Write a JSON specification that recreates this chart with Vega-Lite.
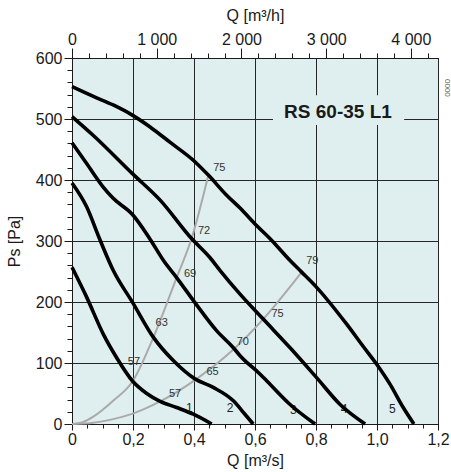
{
  "$schema": "https://vega.github.io/schema/vega-lite/v6.json",
  "width": 366,
  "height": 366,
  "autosize": {"type": "none"},
  "padding": {"left": 72, "top": 58, "right": 13, "bottom": 48},
  "background": "white",
  "config": {
    "view": {"fill": "#dfefef", "stroke": "#1a1a1a", "strokeWidth": 1},
    "axis": {"labelFont": "Liberation Sans", "labelFontSize": 16, "labelColor": "#1a1a1a", "titleFont": "Liberation Sans", "titleFontSize": 16, "titleFontWeight": "normal", "titleColor": "#1a1a1a", "tickColor": "#1a1a1a", "domainColor": "#1a1a1a", "gridColor": "#262626", "gridWidth": 1, "labelOverlap": false, "labelFlush": false}
  },
  "datasets": {
    "curves": [
      {"c": "1", "v": 0, "p": 257}, {"c": "1", "v": 0.048, "p": 208}, {"c": "1", "v": 0.103, "p": 147}, {"c": "1", "v": 0.146, "p": 109}, {"c": "1", "v": 0.199, "p": 70}, {"c": "1", "v": 0.245, "p": 50}, {"c": "1", "v": 0.289, "p": 37}, {"c": "1", "v": 0.343, "p": 27}, {"c": "1", "v": 0.398, "p": 16}, {"c": "1", "v": 0.458, "p": 0},
      {"c": "2", "v": 0, "p": 395}, {"c": "2", "v": 0.048, "p": 356}, {"c": "2", "v": 0.09, "p": 304}, {"c": "2", "v": 0.135, "p": 252}, {"c": "2", "v": 0.199, "p": 199}, {"c": "2", "v": 0.267, "p": 142}, {"c": "2", "v": 0.332, "p": 104}, {"c": "2", "v": 0.403, "p": 74}, {"c": "2", "v": 0.463, "p": 60}, {"c": "2", "v": 0.529, "p": 38}, {"c": "2", "v": 0.567, "p": 16}, {"c": "2", "v": 0.594, "p": 0},
      {"c": "3", "v": 0, "p": 461}, {"c": "3", "v": 0.048, "p": 427}, {"c": "3", "v": 0.103, "p": 388}, {"c": "3", "v": 0.135, "p": 370}, {"c": "3", "v": 0.199, "p": 343}, {"c": "3", "v": 0.256, "p": 303}, {"c": "3", "v": 0.3, "p": 268}, {"c": "3", "v": 0.343, "p": 240}, {"c": "3", "v": 0.403, "p": 199}, {"c": "3", "v": 0.474, "p": 153}, {"c": "3", "v": 0.529, "p": 125}, {"c": "3", "v": 0.551, "p": 112}, {"c": "3", "v": 0.616, "p": 82}, {"c": "3", "v": 0.638, "p": 71}, {"c": "3", "v": 0.715, "p": 32}, {"c": "3", "v": 0.797, "p": 0},
      {"c": "4", "v": 0, "p": 504}, {"c": "4", "v": 0.07, "p": 473}, {"c": "4", "v": 0.199, "p": 410}, {"c": "4", "v": 0.289, "p": 367}, {"c": "4", "v": 0.392, "p": 304}, {"c": "4", "v": 0.452, "p": 273}, {"c": "4", "v": 0.485, "p": 252}, {"c": "4", "v": 0.551, "p": 213}, {"c": "4", "v": 0.627, "p": 172}, {"c": "4", "v": 0.715, "p": 125}, {"c": "4", "v": 0.802, "p": 76}, {"c": "4", "v": 0.879, "p": 32}, {"c": "4", "v": 0.961, "p": 0},
      {"c": "5", "v": 0, "p": 553}, {"c": "5", "v": 0.07, "p": 537}, {"c": "5", "v": 0.135, "p": 523}, {"c": "5", "v": 0.199, "p": 506}, {"c": "5", "v": 0.256, "p": 487}, {"c": "5", "v": 0.321, "p": 462}, {"c": "5", "v": 0.403, "p": 430}, {"c": "5", "v": 0.447, "p": 408}, {"c": "5", "v": 0.507, "p": 375}, {"c": "5", "v": 0.551, "p": 354}, {"c": "5", "v": 0.6, "p": 328}, {"c": "5", "v": 0.655, "p": 301}, {"c": "5", "v": 0.715, "p": 268}, {"c": "5", "v": 0.753, "p": 249}, {"c": "5", "v": 0.802, "p": 224}, {"c": "5", "v": 0.9, "p": 164}, {"c": "5", "v": 0.955, "p": 127}, {"c": "5", "v": 0.999, "p": 98}, {"c": "5", "v": 1.043, "p": 65}, {"c": "5", "v": 1.086, "p": 27}, {"c": "5", "v": 1.121, "p": 0}
    ],
    "eff": [
      {"g": "A", "v": 0, "p": 0}, {"g": "A", "v": 0.035, "p": 3}, {"g": "A", "v": 0.07, "p": 12}, {"g": "A", "v": 0.135, "p": 38}, {"g": "A", "v": 0.199, "p": 70}, {"g": "A", "v": 0.267, "p": 142}, {"g": "A", "v": 0.343, "p": 240}, {"g": "A", "v": 0.392, "p": 304}, {"g": "A", "v": 0.447, "p": 408},
      {"g": "B", "v": 0, "p": 0}, {"g": "B", "v": 0.07, "p": 2}, {"g": "B", "v": 0.135, "p": 8}, {"g": "B", "v": 0.199, "p": 17}, {"g": "B", "v": 0.289, "p": 37}, {"g": "B", "v": 0.403, "p": 72}, {"g": "B", "v": 0.529, "p": 122}, {"g": "B", "v": 0.627, "p": 172}, {"g": "B", "v": 0.753, "p": 249}
    ],
    "effLabels": [
      {"t": "75", "v": 0.483, "p": 420}, {"t": "72", "v": 0.433, "p": 317}, {"t": "69", "v": 0.387, "p": 246}, {"t": "63", "v": 0.294, "p": 165}, {"t": "57", "v": 0.203, "p": 101},
      {"t": "57", "v": 0.338, "p": 50}, {"t": "65", "v": 0.461, "p": 85}, {"t": "70", "v": 0.56, "p": 135}, {"t": "75", "v": 0.674, "p": 181}, {"t": "79", "v": 0.788, "p": 267}
    ],
    "nums": [
      {"t": "1", "v": 0.385, "p": 26}, {"t": "2", "v": 0.518, "p": 26}, {"t": "3", "v": 0.726, "p": 23}, {"t": "4", "v": 0.892, "p": 24}, {"t": "5", "v": 1.05, "p": 24}
    ],
    "box": [{"v1": 0.659, "v2": 1.089, "p1": 490, "p2": 539}],
    "title": [{"t": "RS 60-35 L1", "v": 0.872, "p": 511}],
    "top": [{"qh": 0}, {"qh": 4320}],
    "code": [{"t": "0000", "v": 1.228, "p": 551}]
  },
  "resolve": {"scale": {"x": "independent", "y": "independent"}, "axis": {"x": "independent", "y": "independent"}},
  "layer": [
    {
      "data": {"name": "nums"},
      "mark": {"type": "text", "font": "Liberation Sans", "fontSize": 12, "color": "#222222"},
      "encoding": {
        "x": {"field": "v", "type": "quantitative", "scale": {"domain": [0, 1.2], "nice": false}, "axis": null},
        "y": {"field": "p", "type": "quantitative", "scale": {"domain": [0, 600], "nice": false}, "axis": null},
        "text": {"field": "t"}
      }
    },
    {
      "data": {"name": "eff"},
      "mark": {"type": "line", "color": "#aaaaaa", "strokeWidth": 2, "interpolate": "monotone"},
      "encoding": {
        "x": {"field": "v", "type": "quantitative", "scale": {"domain": [0, 1.2], "nice": false},
          "axis": {"orient": "bottom", "values": [0, 0.05, 0.1, 0.15, 0.2, 0.25, 0.3, 0.35, 0.4, 0.45, 0.5, 0.55, 0.6, 0.65, 0.7, 0.75, 0.8, 0.85, 0.9, 0.95, 1, 1.05, 1.1, 1.15, 1.2], "labels": false, "domain": false, "grid": false, "tickSize": 4, "title": null}},
        "y": {"field": "p", "type": "quantitative", "scale": {"domain": [0, 600], "nice": false},
          "axis": {"orient": "left", "values": [0, 20, 40, 60, 80, 100, 120, 140, 160, 180, 200, 220, 240, 260, 280, 300, 320, 340, 360, 380, 400, 420, 440, 460, 480, 500, 520, 540, 560, 580, 600], "labels": false, "domain": false, "grid": false, "tickSize": 5, "title": null}},
        "detail": {"field": "g"}
      }
    },
    {
      "data": {"name": "curves"},
      "mark": {"type": "line", "color": "#000000", "strokeWidth": 3.6, "interpolate": "monotone"},
      "encoding": {
        "x": {"field": "v", "type": "quantitative", "scale": {"domain": [0, 1.2], "nice": false},
          "axis": {"orient": "bottom", "values": [0, 0.2, 0.4, 0.6, 0.8, 1, 1.2], "tickSize": 6, "labelPadding": 1, "grid": true, "title": "Q [m³/s]", "titlePadding": 5,
            "labelExpr": "datum.value == 0 ? '0' : replace(format(datum.value, '.1f'), '.', ',')"}},
        "y": {"field": "p", "type": "quantitative", "scale": {"domain": [0, 600], "nice": false},
          "axis": {"orient": "left", "values": [0, 100, 200, 300, 400, 500, 600], "tickSize": 8, "labelPadding": 2, "grid": true, "title": "Ps [Pa]", "titlePadding": 13}},
        "detail": {"field": "c"}
      }
    },
    {
      "data": {"name": "box"},
      "mark": {"type": "rect", "fill": "#dfefef"},
      "encoding": {
        "x": {"field": "v1", "type": "quantitative", "scale": {"domain": [0, 1.2], "nice": false}, "axis": null},
        "x2": {"field": "v2"},
        "y": {"field": "p1", "type": "quantitative", "scale": {"domain": [0, 600], "nice": false}, "axis": null},
        "y2": {"field": "p2"}
      }
    },
    {
      "data": {"name": "title"},
      "mark": {"type": "text", "font": "Liberation Sans", "fontSize": 19, "fontWeight": "bold", "color": "#1a1a1a"},
      "encoding": {
        "x": {"field": "v", "type": "quantitative", "scale": {"domain": [0, 1.2], "nice": false}, "axis": null},
        "y": {"field": "p", "type": "quantitative", "scale": {"domain": [0, 600], "nice": false}, "axis": null},
        "text": {"field": "t"}
      }
    },
    {
      "data": {"name": "effLabels"},
      "mark": {"type": "text", "font": "Liberation Sans", "fontSize": 11, "color": "#333333"},
      "encoding": {
        "x": {"field": "v", "type": "quantitative", "scale": {"domain": [0, 1.2], "nice": false}, "axis": null},
        "y": {"field": "p", "type": "quantitative", "scale": {"domain": [0, 600], "nice": false}, "axis": null},
        "text": {"field": "t"}
      }
    },
    {
      "data": {"name": "top"},
      "mark": {"type": "point", "opacity": 0},
      "encoding": {
        "x": {"field": "qh", "type": "quantitative", "scale": {"domain": [0, 4320], "nice": false},
          "axis": {"orient": "top", "values": [0, 1000, 2000, 3000, 4000], "tickSize": 10, "labelPadding": 1, "grid": false, "title": "Q [m³/h]", "titlePadding": 8,
            "labelExpr": "datum.value == 0 ? '0' : replace(format(datum.value, ',d'), ',', ' ')"}}
      }
    },
    {
      "data": {"name": "top"},
      "mark": {"type": "point", "opacity": 0},
      "encoding": {
        "x": {"field": "qh", "type": "quantitative", "scale": {"domain": [0, 4320], "nice": false},
          "axis": {"orient": "top", "values": [0, 200, 400, 600, 800, 1000, 1200, 1400, 1600, 1800, 2000, 2200, 2400, 2600, 2800, 3000, 3200, 3400, 3600, 3800, 4000, 4200], "tickSize": 5, "labels": false, "domain": false, "grid": false, "title": null}}
      }
    },
    {
      "data": {"name": "code"},
      "mark": {"type": "text", "font": "Liberation Sans", "fontSize": 8, "angle": 90, "color": "#555555"},
      "encoding": {
        "x": {"field": "v", "type": "quantitative", "scale": {"domain": [0, 1.2], "nice": false}, "axis": null},
        "y": {"field": "p", "type": "quantitative", "scale": {"domain": [0, 600], "nice": false}, "axis": null},
        "text": {"field": "t"}
      }
    }
  ]
}
